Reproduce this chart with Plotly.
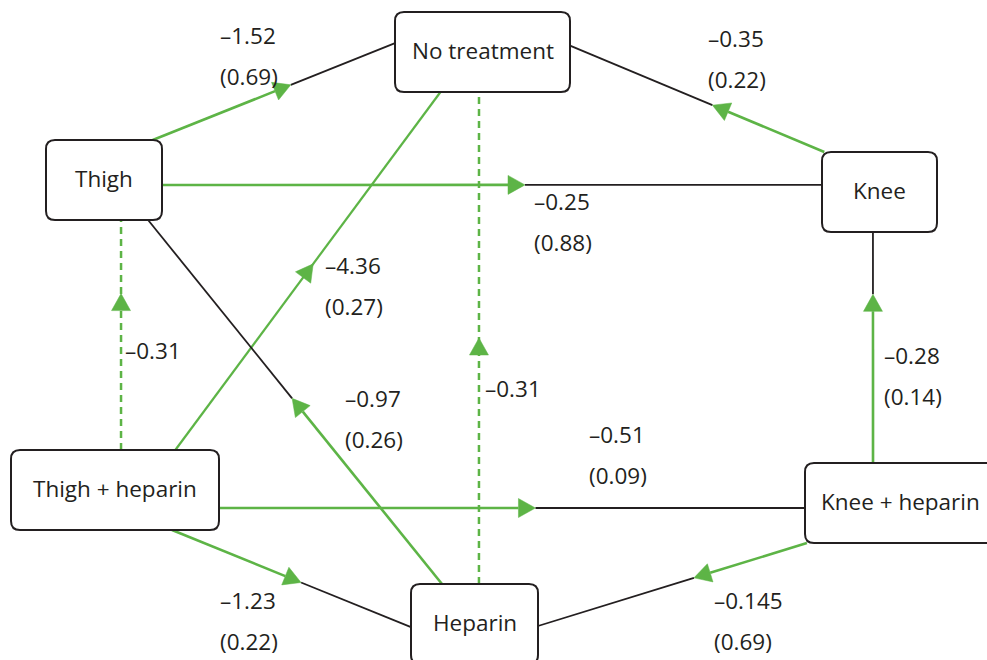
import plotly.graph_objects as go

W, H = 987, 660
GREEN = "#5db446"
INK = "#231f20"
FONT = "Open Sans"
FONT_SIZE = 22.5
TEXT_DY = -2  # optical correction for vertical centring of text

# Treatment nodes and their boxes (pixel layout of the network)
node_names = ["No treatment", "Thigh", "Knee", "Thigh + heparin", "Knee + heparin", "Heparin"]
node_x0 = [395, 46, 822, 11, 805, 411]
node_x1 = [570, 162, 937, 219, 995, 538]
node_y0 = [12, 140, 152, 450, 463, 584]
node_y1 = [92, 220, 232, 530, 543, 664]

# Comparisons: direction, estimate and standard error
edge_from = ["Thigh", "Knee", "Thigh", "Thigh + heparin", "Thigh + heparin", "Thigh + heparin",
             "Thigh + heparin", "Heparin", "Heparin", "Knee + heparin", "Knee + heparin"]
edge_to = ["No treatment", "No treatment", "Knee", "No treatment", "Heparin", "Knee + heparin",
           "Thigh", "No treatment", "Thigh", "Knee", "Heparin"]
edge_est = [-1.52, -0.35, -0.25, -4.36, -1.23, -0.51, -0.31, -0.31, -0.97, -0.28, -0.145]
edge_se = [0.69, 0.22, 0.88, 0.27, 0.22, 0.09, None, None, 0.26, 0.14, 0.69]
edge_dashed = [False, False, False, False, False, False, True, True, False, False, False]
edge_all_green = [False, False, False, True, False, False, True, True, False, False, False]

# Attachment points on each box (relative position inside the box)
src_rel = [(0.92, 0), (0.02, 0), (1, 0.5625), (0.79, 0), (0.774, 1), (1, 0.725),
           (0.529, 0), (0.535, 0), (0.244, 0), (0.358, 0), (0.01, 1)]
dst_rel = [(0, 0.39), (1, 0.42), (0, 0.41), (0.26, 1), (0, 0.54), (0, 0.5625),
           (0.647, 1), (0.48, 1), (0.88, 1), (0.443, 1), (1, 0.525)]
tip_frac = [0.57, 0.44, 0.55, 0.52, 0.54, 0.54, 0.68, 0.50, 0.51, 0.73, 0.42]

# Label anchors (left edge, vertical centre of the estimate line)
label_x = [218, 706, 532, 323, 218, 587, 123, 483, 343, 882, 712]
label_y = [37, 40, 203, 267, 602, 436, 352, 390, 400, 357, 602]
LINE_GAP = 41

ARROW_LEN = 17
ARROW_HALF = 9.5


def box_point(name, rel):
    i = node_names.index(name)
    return (node_x0[i] + rel[0] * (node_x1[i] - node_x0[i]),
            node_y0[i] + rel[1] * (node_y1[i] - node_y0[i]))


def rounded_rect(x0, y0, x1, y1, r=9):
    return (f"M {x0 + r},{y0} L {x1 - r},{y0} Q {x1},{y0} {x1},{y0 + r} "
            f"L {x1},{y1 - r} Q {x1},{y1} {x1 - r},{y1} L {x0 + r},{y1} "
            f"Q {x0},{y1} {x0},{y1 - r} L {x0},{y0 + r} Q {x0},{y0} {x0 + r},{y0} Z")


def fmt_est(v):
    return ("\u2013" if v < 0 else "") + f"{abs(v):g}"


def add_text(fig, x, y, text, anchor):
    fig.add_annotation(x=x, y=y + TEXT_DY, text=text, xanchor=anchor, yanchor="middle",
                       showarrow=False, font=dict(family=FONT, size=FONT_SIZE, color=INK))


fig = go.Figure()

for k in range(len(edge_from)):
    ax, ay = box_point(edge_from[k], src_rel[k])
    bx, by = box_point(edge_to[k], dst_rel[k])
    dx, dy = bx - ax, by - ay
    length = (dx * dx + dy * dy) ** 0.5
    ux, uy = dx / length, dy / length
    f = tip_frac[k]
    tx, ty = ax + f * dx, ay + f * dy
    cx, cy = tx - ARROW_LEN * ux, ty - ARROW_LEN * uy
    nx, ny = -uy, ux
    dash = "7px,5px" if edge_dashed[k] else "solid"

    if edge_all_green[k]:
        fig.add_trace(go.Scatter(x=[ax, bx], y=[ay, by], mode="lines",
                                 line=dict(color=GREEN, width=2.5 if edge_dashed[k] else 2.2,
                                           dash=dash),
                                 hoverinfo="skip"))
    else:
        fig.add_trace(go.Scatter(x=[ax, cx], y=[ay, cy], mode="lines",
                                 line=dict(color=GREEN, width=2.6, dash=dash),
                                 hoverinfo="skip"))
        fig.add_trace(go.Scatter(x=[tx, bx], y=[ty, by], mode="lines",
                                 line=dict(color=INK, width=1.8),
                                 hoverinfo="skip"))
    # arrowhead
    fig.add_trace(go.Scatter(
        x=[tx, cx + ARROW_HALF * nx, cx - ARROW_HALF * nx, tx],
        y=[ty, cy + ARROW_HALF * ny, cy - ARROW_HALF * ny, ty],
        mode="lines", fill="toself", fillcolor=GREEN,
        line=dict(color=GREEN, width=0.5), hoverinfo="skip"))

    add_text(fig, label_x[k], label_y[k], fmt_est(edge_est[k]), "left")
    if edge_se[k] is not None:
        add_text(fig, label_x[k], label_y[k] + LINE_GAP, f"({edge_se[k]:.2f})", "left")

for i, name in enumerate(node_names):
    fig.add_shape(type="path", xref="x", yref="y",
                  path=rounded_rect(node_x0[i], node_y0[i], node_x1[i], node_y1[i]),
                  fillcolor="white", line=dict(color=INK, width=2), layer="above")
    add_text(fig, (node_x0[i] + node_x1[i]) / 2, (node_y0[i] + node_y1[i]) / 2, name, "center")

fig.update_layout(
    width=W, height=H, margin=dict(l=0, r=0, t=0, b=0),
    paper_bgcolor="white", plot_bgcolor="white", showlegend=False,
    xaxis=dict(visible=False, range=[0, W], fixedrange=True),
    yaxis=dict(visible=False, range=[H, 0], fixedrange=True),
)

fig.write_html("out.html")
